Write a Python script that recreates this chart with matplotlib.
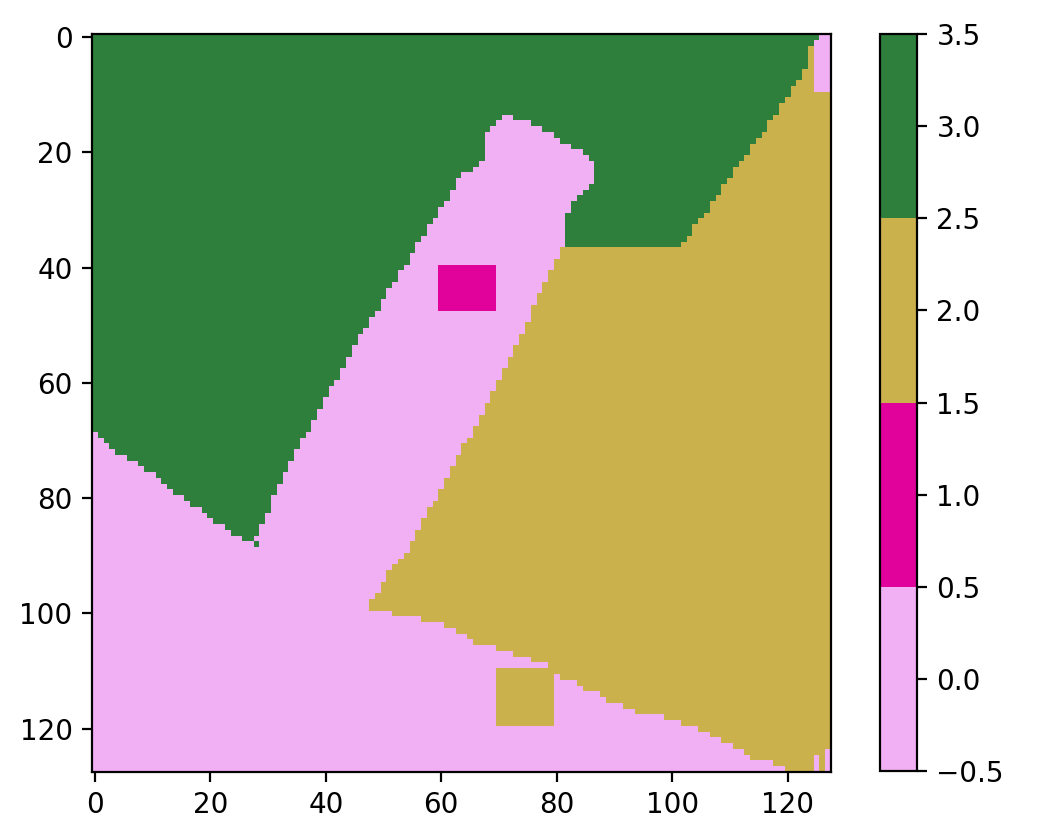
import matplotlib
matplotlib.use("Agg")
import matplotlib.pyplot as plt
import numpy as np
from matplotlib.colors import ListedColormap

N = 128
PINK, MAGENTA, OLIVE, GREEN = 0, 1, 2, 3
colors = ["#f2b0f4", "#e0029a", "#cbb14c", "#2f7f3c"]

# first olive column per row, rows 0..99 (128 = none)
olive_left = [
    128, 128, 124, 124, 124, 124, 123, 123, 122, 121,
    121, 120, 119, 119, 118, 117, 117, 116, 115, 114,
    114, 113, 112, 111, 111, 110, 109, 109, 108, 107,
    107, 106, 105, 104, 104, 103, 102, 81, 81, 80,
    80, 79, 79, 78, 78, 77, 77, 76, 76, 76,
    75, 75, 74, 74, 73, 73, 72, 72, 71, 71,
    70, 70, 69, 69, 68, 68, 67, 67, 66, 66,
    65, 64, 64, 63, 63, 62, 62, 61, 61, 60,
    60, 59, 58, 58, 57, 57, 56, 56, 55, 55,
    54, 53, 52, 51, 51, 50, 50, 49, 48, 48,
]

# first pink row below the olive area, columns 48..127 (128 = none)
OLIVE_BOTTOM_COL0 = 48
olive_bottom = [
    100, 100, 100, 100, 101, 101, 101, 101, 101, 102,
    102, 102, 102, 103, 103, 104, 104, 105, 106, 106,
    106, 106, 107, 107, 107, 108, 108, 108, 109, 109,
    109, 111, 111, 112, 112, 112, 113, 114, 114, 114,
    115, 116, 116, 116, 117, 117, 118, 118, 118, 118,
    118, 119, 119, 119, 120, 120, 120, 121, 121, 122,
    122, 123, 123, 124, 124, 125, 126, 126, 126, 126,
    127, 127, 128, 128, 128, 128, 128, 125, 128, 124,
]

# left edge of the pink band (first non-green column), rows 14..88
BAND_TOP = 14
band_left = [
    71, 70, 69, 68, 68, 68, 68, 68, 67, 66,
    64, 63, 63, 62, 62, 61, 60, 60, 59, 58,
    58, 57, 56, 56, 55, 55, 54, 53, 53, 52,
    51, 51, 50, 50, 49, 48, 48, 47, 46, 46,
    45, 45, 44, 44, 43, 43, 42, 41, 41, 40,
    40, 39, 39, 38, 38, 37, 36, 36, 35, 35,
    34, 34, 33, 33, 32, 32, 31, 31, 31, 30,
    30, 29, 29, 28, 29,
]

# right edge of the pink bump (first green column again), rows 14..36
band_right = [
    73, 76, 78, 80, 81, 83, 85, 86, 87, 87,
    87, 87, 86, 85, 84, 83, 83, 82, 82, 82,
    82, 82, 82,
]

# first pink row under the left green lobe, columns 0..28
green_bottom = [
    69, 70, 71, 72, 73, 73, 74, 74, 75, 76,
    76, 77, 78, 79, 80, 80, 81, 82, 82, 83,
    84, 85, 85, 86, 87, 87, 88, 88, 89,
]

# (row0, row1, col0, col1, value) blocks, end exclusive
blocks = [
    (40, 48, 60, 70, MAGENTA),
    (110, 120, 70, 80, OLIVE),
    (0, 1, 126, 128, PINK),
    (1, 10, 125, 128, PINK),
]

grid = np.full((N, N), PINK, dtype=int)
cols = np.arange(N)

# green top + pink band
for r in range(BAND_TOP + len(band_left)):
    if r < BAND_TOP:
        grid[r, :] = GREEN
        continue
    i = r - BAND_TOP
    grid[r, :band_left[i]] = GREEN
    if i < len(band_right):
        grid[r, band_right[i]:] = GREEN

for c, b in enumerate(green_bottom):
    grid[b:, c] = np.where(grid[b:, c] == GREEN, PINK, grid[b:, c])

# olive area
bottom = np.zeros(N, dtype=int)
bottom[OLIVE_BOTTOM_COL0:] = olive_bottom
for r in range(N):
    start = olive_left[r] if r < len(olive_left) else OLIVE_BOTTOM_COL0
    mask = (cols >= start) & (r < bottom)
    grid[r, mask] = OLIVE
    if r < len(olive_left):
        grid[r, start:][~mask[start:]] = PINK

for r0, r1, c0, c1, v in blocks:
    grid[r0:r1, c0:c1] = v

fig = plt.figure(figsize=(5.22, 4.18), dpi=200)
ax = fig.add_axes([92 / 1044, 64 / 836, 739 / 1044, 738 / 836])
cax = fig.add_axes([880 / 1044, 65 / 836, 37 / 1044, 737 / 836])
im = ax.imshow(grid, cmap=ListedColormap(colors), vmin=-0.5, vmax=3.5,
               interpolation="nearest", aspect="auto")
ax.set_xticks([0, 20, 40, 60, 80, 100, 120])
ax.set_yticks([0, 20, 40, 60, 80, 100, 120])
cb = fig.colorbar(im, cax=cax)
cb.set_ticks([-0.5, 0.0, 0.5, 1.0, 1.5, 2.0, 2.5, 3.0, 3.5])
fig.savefig("out.png", dpi=200)
